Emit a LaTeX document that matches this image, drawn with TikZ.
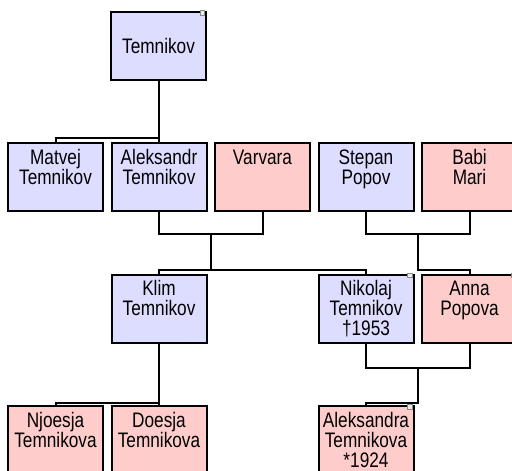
\documentclass[tikz,border=0pt]{standalone}
\usepackage{fontspec}
\setmainfont[FakeStretch=0.82]{Liberation Sans}
\usetikzlibrary{calc}
\definecolor{mblue}{HTML}{DDDDFF}
\definecolor{fpink}{HTML}{FFCCCC}
\definecolor{mark}{HTML}{8A8A8A}
\newcommand{\ptext}[1]{\parbox[c][68pt][t]{95pt}{\centering\fontsize{21pt}{20pt}\selectfont\rule{0pt}{21pt}#1\par}}
\newcommand{\ctext}[1]{\parbox[c][68pt][c]{95pt}{\centering\fontsize{21pt}{20pt}\selectfont #1\par}}
\tikzset{
  person/.style={draw=black, line width=2pt, minimum width=95pt, minimum height=68pt, inner sep=0pt, outer sep=0pt, anchor=north west},
  male/.style={person, fill=mblue},
  female/.style={person, fill=fpink},
  conn/.style={draw=black, line width=2pt},
  expmark/.style={draw=mark, fill=white!85!mark, line width=0.6pt, minimum size=4.5pt, inner sep=0pt}
}
\begin{document}
\begin{tikzpicture}[x=1pt,y=-1pt]
\useasboundingbox (0,0) rectangle (512,471);
\clip (0,0) rectangle (512,471);
\fill[white] (0,0) rectangle (512,471);
% nodes
\node[male] (T) at (111,12) {\ctext{Temnikov}};
\node[male] (M) at (8,143) {\ptext{Matvej\\Temnikov}};
\node[male] (A) at (111.5,143) {\ptext{Aleksandr\\Temnikov}};
\node[female] (V) at (215,143) {\ptext{Varvara}};
\node[male] (S) at (318.5,143) {\ptext{Stepan\\Popov}};
\node[female] (B) at (422,143) {\ptext{Babi\\Mari}};
\node[male] (K) at (111.5,274.5) {\ptext{Klim\\Temnikov}};
\node[male] (N) at (318.5,274.5) {\ptext{Nikolaj\\Temnikov\\{†1953}}};
\node[female] (An) at (422,274.5) {\ptext{Anna\\Popova}};
\node[female] (Nj) at (8,406) {\ptext{Njoesja\\Temnikova}};
\node[female] (D) at (111.5,406) {\ptext{Doesja\\Temnikova}};
\node[female] (Al) at (318.5,406) {\ptext{Aleksandra\\Temnikova\\{*1924}}};
% expand markers
\foreach \n in {T,N,An,Al}{
  \node[expmark] (mk\n) at ($(\n.north east)+(-3.5,1)$) {};
}
% connectors: Temnikov -> children
\coordinate (b1) at ($(A.north)+(0,-5)$);
\draw[conn] (M.north) -- (M.north |- b1) -- (b1) -- (A.north);
\draw[conn] (T.south) -- (T.south |- b1);
% Aleksandr + Varvara
\coordinate (c1) at ($(A.south)!0.5!(V.south)+(0,23)$);
\draw[conn] (A.south) -- (A.south |- c1) -- (V.south |- c1) -- (V.south);
% Stepan + Babi
\coordinate (c2) at ($(S.south)!0.5!(B.south)+(0,23)$);
\draw[conn] (S.south) -- (S.south |- c2) -- (B.south |- c2) -- (B.south);
% children row 3
\coordinate (b2) at ($(K.north)+(0,-4.5)$);
\draw[conn] (K.north) -- (K.north |- b2) -- (N.north |- b2) -- (N.north);
\draw[conn] (c1) -- (c1 |- b2);
\draw[conn] (c2) -- (c2 |- b2) -- (An.north |- b2) -- (An.north);
% Klim -> children
\coordinate (b3) at ($(D.north)+(0,-3.5)$);
\draw[conn] (Nj.north) -- (Nj.north |- b3) -- (D.north |- b3) -- (D.north);
\draw[conn] (K.south) -- (K.south |- b3);
% Nikolaj + Anna
\coordinate (c3) at ($(N.south)!0.5!(An.south)+(0,25)$);
\draw[conn] (N.south) -- (N.south |- c3) -- (An.south |- c3) -- (An.south);
\draw[conn] (c3) -- (c3 |- b3) -- (Al.north |- b3) -- (Al.north);
\end{tikzpicture}
\end{document}
